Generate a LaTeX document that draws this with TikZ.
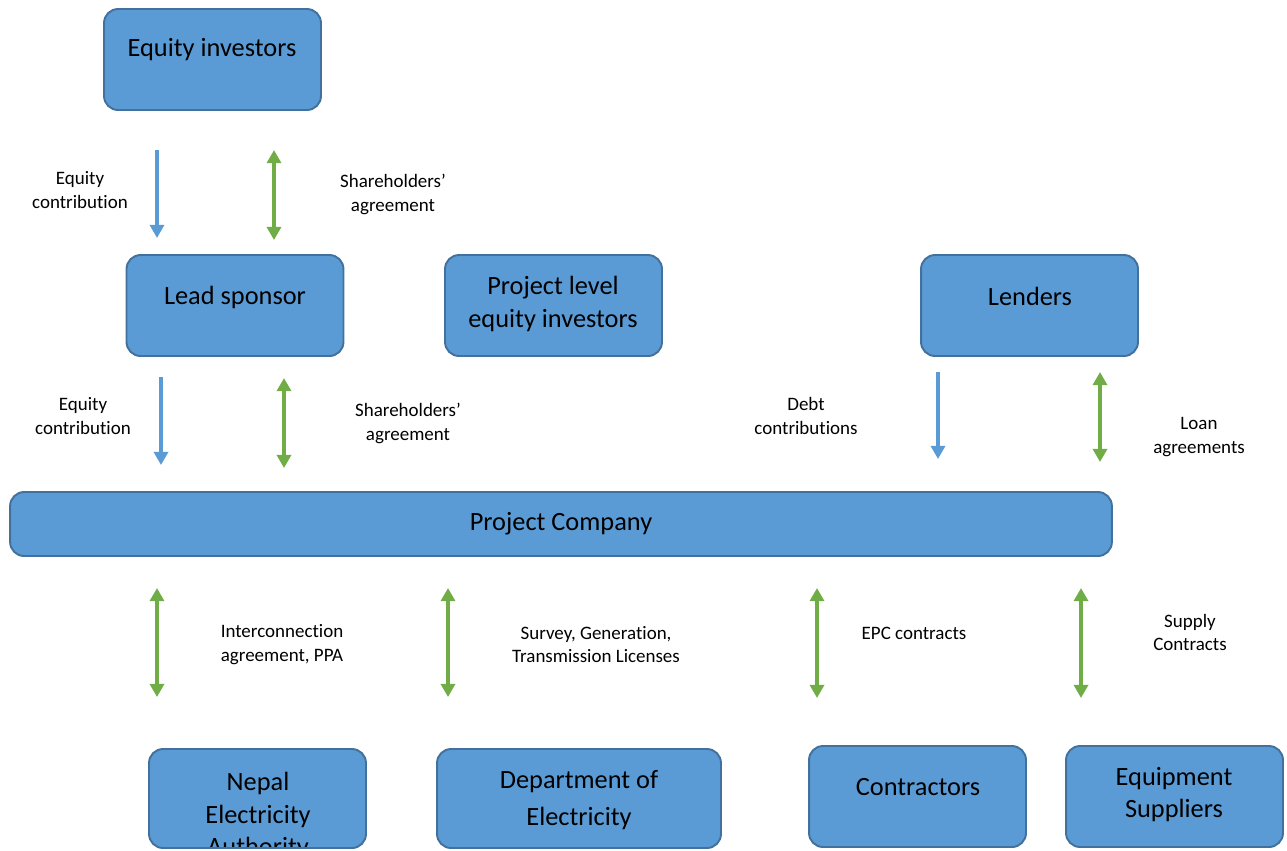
\documentclass[tikz,border=0pt]{standalone}
\usepackage{fontspec}
\setmainfont{Carlito}[Ligatures=NoCommon]
\usetikzlibrary{arrows.meta,positioning}
\definecolor{boxblue}{HTML}{5B9BD5}
\definecolor{boxedge}{HTML}{41719C}
\definecolor{dealgreen}{HTML}{70AD47}
\tikzset{
    party/.style={
                draw=boxedge,
                fill=boxblue,
                line width=1.1pt,
                rounded corners=8pt,
                minimum width=4.34cm,
                minimum height=2.02cm
            },
        partytext/.style={
                font=\fontsize{15}{18.6}\selectfont,
                text centered,
                align=center,
                inner sep=0pt
            },
        flowlabel/.style={
                font=\fontsize{10.8}{13.6}\selectfont,
                align=center,
                inner sep=0pt
            },
        money/.style={
                draw=boxblue,
                line width=2pt,
                -{Triangle[width=8pt,length=7.5pt]}
            },
        deal/.style={
                draw=dealgreen,
                line width=2pt,
                {Triangle[width=8pt,length=7.5pt]}-{Triangle[width=8pt,length=7.5pt]}
            },
}

\begin{document}
\begin{tikzpicture}[x=0.02cm,y=-0.02cm]
\useasboundingbox (0,0) rectangle (1287,850);
\clip (0,0) rectangle (1287,850);
% Parties
\node[party] (eqinv) at (212.5,59.5) {};
\node[party] (lead) at (235,305.5) {};
\node[party] (projeq) at (553.5,305.5) {};
\node[party] (lenders) at (1029.5,305.5) {};
\node[party, minimum width=22.04cm, minimum height=1.28cm] (projco) at (561,524) {};
\node[party, draw=none, outer sep=0pt, minimum height=1.98cm] (nea) at (257.5,798.5) {};
\node[party, minimum width=5.68cm, minimum height=1.98cm] (doe) at (579,798.5) {};
\node[party] (contr) at (917.5,796.5) {};
\node[party] (suppl) at (1174.5,796.5) {};
% Party names
\node[partytext] (eqinvtext) at (212,50) {Equity investors};
\node[partytext] (leadtext) at (235,297) {Lead sponsor};
\node[partytext] (projeqtext) at (553,304) {Project level\\equity investors};
\node[partytext] (lenderstext) at (1030,296) {Lenders};
\node[partytext] (projcotext) at (561,523.5) {Project Company};
\begin{scope}
  \clip[rounded corners=8pt] (nea.north west) rectangle (nea.south east);
  \node[partytext] (neatext) at (258,816) {Nepal\\Electricity\\Authority};
\end{scope}
\draw[draw=boxedge, line width=1.1pt, rounded corners=8pt] (nea.north west) rectangle (nea.south east);
\node[partytext] (doetext) at (579,800) {Department of\\[2.8pt]Electricity};
\node[partytext] (contrtext) at (918,787.5) {Contractors};
\node[partytext] (suppltext) at (1174,794.5) {Equipment\\Suppliers};
% Flows and agreements
\foreach \flow/\kind/\x/\ytop/\ybot in {
    eqtop/money/157/150/238, shtop/deal/274/150/240,
    eqmid/money/161/377/465, shmid/deal/284/378/468,
    debt/money/938/372/459, loan/deal/1100/372/462,
    ppa/deal/157/588/697, lic/deal/448/588/697,
    epc/deal/817/588/698, supply/deal/1081/588/698}{
  \coordinate (\flow-a) at (\x,\ytop);
  \coordinate (\flow-b) at (\x,\ybot);
  \draw[\kind] (\flow-a) -- (\flow-b);
}
% Labels
\node[flowlabel] (eqtoplbl) at (80,190) {Equity\\contribution};
\node[flowlabel] (shtoplbl) at (393,194) {Shareholders’\\agreement};
\node[flowlabel] (eqmidlbl) at (83,416) {Equity\\contribution};
\node[flowlabel] (shmidlbl) at (408,423) {Shareholders’\\agreement};
\node[flowlabel] (debtlbl) at (806,416) {Debt\\contributions};
\node[flowlabel] (loanlbl) at (1199,437) {Loan\\agreements};
\node[flowlabel] (ppalbl) at (282,645) {Interconnection\\agreement, PPA};
\node[flowlabel] (liclbl) at (596,644.5) {Survey, Generation,\\Transmission Licenses};
\node[flowlabel] (epclbl) at (914,633) {EPC contracts};
\node[flowlabel] (supplylbl) at (1190,632.5) {Supply\\Contracts};
\end{tikzpicture}
\end{document}
